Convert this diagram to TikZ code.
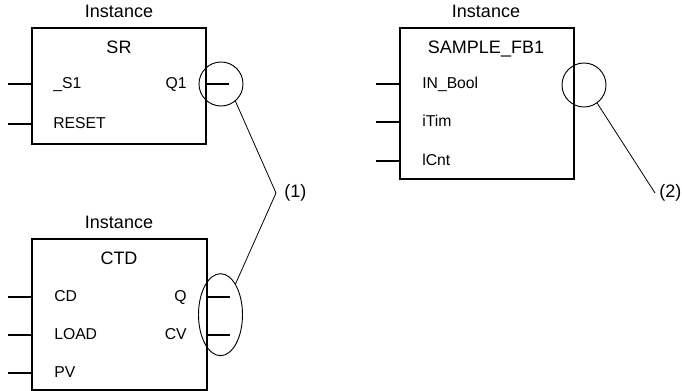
\documentclass[tikz,border=0pt]{standalone}
\usepackage{fontspec}
\setmainfont{Liberation Sans}
\usetikzlibrary{shapes.geometric}

\tikzset{
  fbbox/.style={draw, rectangle, line width=0.9pt},
  title/.style={font=\fontsize{13.5}{16}\selectfont},
  port/.style={font=\fontsize{11.8}{14}\selectfont},
  mark1/.style={draw, line width=0.7pt},
}

\begin{document}
\begin{tikzpicture}[x=0.75pt,y=-0.75pt,
    every node/.style={inner sep=0pt, text height=0.716em, text depth=0pt}]
  \useasboundingbox (0,0) rectangle (682,391);

  % function blocks
  \node[fbbox, minimum width=130.5pt, minimum height=87pt]     (sr)  at (119,86)    {};
  \node[fbbox, minimum width=131.25pt, minimum height=113.25pt] (ctd) at (119.5,314.5) {};
  \node[fbbox, minimum width=130.5pt, minimum height=113.25pt] (fb)  at (487,103.5) {};

  % SR
  \node[title] (srinst) at (119,13) {Instance};
  \node[title] (srname) at (119,49) {SR};
  \begin{scope}[every node/.append style={port}]
    \node[anchor=west] (s1)    at (53,84)  {\_S1};
    \node[anchor=east] (q1)    at (187,84) {Q1};
    \node[anchor=west] (reset) at (53,124) {RESET};
  \end{scope}

  % CTD
  \node[title] (ctdinst) at (119,224) {Instance};
  \node[title] (ctdname) at (119,260) {CTD};
  \begin{scope}[every node/.append style={port}]
    \node[anchor=west] (cd)   at (54,297)  {CD};
    \node[anchor=east] (q)    at (187,297) {Q};
    \node[anchor=west] (load) at (54,335)  {LOAD};
    \node[anchor=east] (cv)   at (187,335) {CV};
    \node[anchor=west] (pv)   at (54,373)  {PV};
  \end{scope}

  % SAMPLE_FB1
  \node[title] (fbinst) at (486,13) {Instance};
  \node[title] (fbname) at (486,49) {SAMPLE\_FB1};
  \begin{scope}[every node/.append style={port}]
    \node[anchor=west] (inbool) at (422,84)  {IN\_Bool};
    \node[anchor=west] (itim)   at (422,122) {iTim};
    \node[anchor=west] (lcnt)   at (422,161) {lCnt};
  \end{scope}

  % pin ends
  \coordinate (s1in)    at (8,84);
  \coordinate (resetin) at (8,124);
  \coordinate (q1out)   at (229,84);
  \coordinate (cdin)    at (8,297);
  \coordinate (loadin)  at (8,335);
  \coordinate (pvin)    at (8,373);
  \coordinate (qout)    at (230,297);
  \coordinate (cvout)   at (230,335);
  \coordinate (inboolin) at (376,84);
  \coordinate (itimin)   at (376,122);
  \coordinate (lcntin)   at (376,161);

  \begin{scope}[every edge/.style={draw, line width=0.9pt}]
    \path (s1in)    edge (sr.west |- s1in);
    \path (resetin) edge (sr.west |- resetin);
    \path (sr.east |- q1out) edge (q1out);
    \path (cdin)    edge (ctd.west |- cdin);
    \path (loadin)  edge (ctd.west |- loadin);
    \path (pvin)    edge (ctd.west |- pvin);
    \path (ctd.east |- qout)  edge (qout);
    \path (ctd.east |- cvout) edge (cvout);
    \path (inboolin) edge (fb.west |- inboolin);
    \path (itimin)   edge (fb.west |- itimin);
    \path (lcntin)   edge (fb.west |- lcntin);
  \end{scope}

  % markers and callouts
  \node[mark1, circle, minimum size=33pt] (m1) at (221,84) {};
  \node[mark1, ellipse, minimum width=33pt, minimum height=61.5pt] (m2) at (220.5,314.7) {};
  \node[mark1, circle, minimum size=33pt] (m3) at (584,85) {};

  \coordinate (j1) at (276,193);
  \coordinate (j2) at (655,193);
  \node[title, anchor=west] (lab1) at (284,193) {(1)};
  \node[title, anchor=west] (lab2) at (659,193) {(2)};

  \begin{scope}[every edge/.style={draw, line width=0.6pt}]
    \path (m1.-50) edge (j1);
    \path (m2.64)  edge (j1);
    \path (m3.-54) edge (j2);
  \end{scope}
\end{tikzpicture}
\end{document}
